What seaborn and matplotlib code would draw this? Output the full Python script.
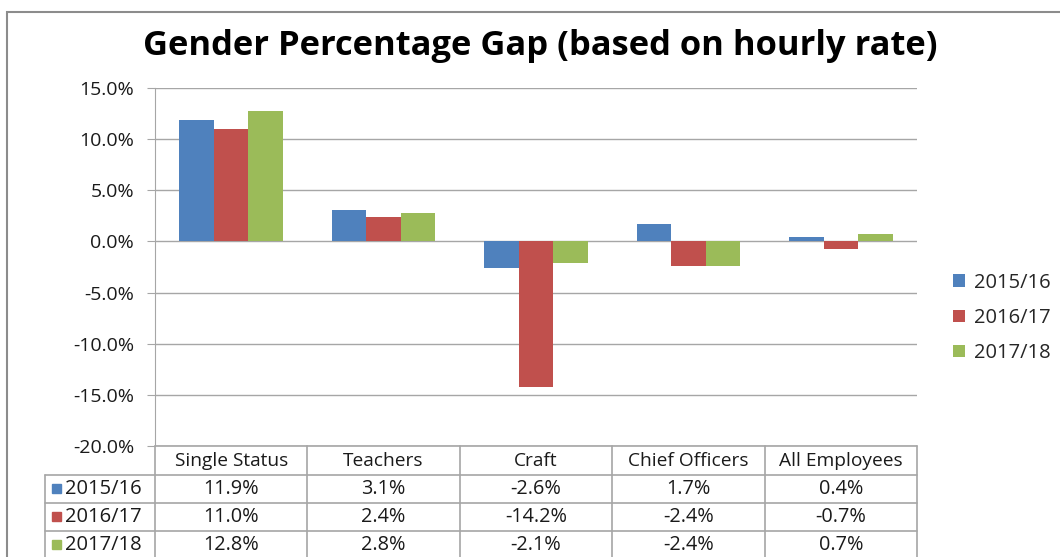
import numpy as np
import pandas as pd
import seaborn as sns
import matplotlib.pyplot as plt
from matplotlib.patches import Rectangle
from matplotlib.lines import Line2D

categories = ["Single Status", "Teachers", "Craft", "Chief Officers", "All Employees"]
years = ["2015/16", "2016/17", "2017/18"]
gap_2015 = [11.9, 3.1, -2.6, 1.7, 0.4]
gap_2016 = [11.0, 2.4, -14.2, -2.4, -0.7]
gap_2017 = [12.8, 2.8, -2.1, -2.4, 0.7]
colors = ["#4F81BD", "#C0504D", "#9BBB59"]
yticks = [15, 10, 5, 0, -5, -10, -15, -20]

df = pd.DataFrame({
    "category": categories * 3,
    "year": [y for y in years for _ in categories],
    "gap": gap_2015 + gap_2016 + gap_2017,
})

sns.set_style("white")
plt.rcParams["font.family"] = ["Open Sans", "DejaVu Sans"]

W, H = 1060, 557
fig = plt.figure(figsize=(W / 100, H / 100), dpi=100)

def fx(px):
    return px / W

def fy(py):
    return 1 - py / H

grey = "#a6a6a6"
txt = "#1a1a1a"

# outer chart frame
fig.add_artist(Rectangle((fx(7), fy(600)), fx(1100), fy(12) - fy(600),
                         transform=fig.transFigure, fill=False,
                         edgecolor="#8c8c8c", linewidth=1.5))

x0, x1, y0, y1 = 155, 917, 88, 446
ax = fig.add_axes([fx(x0), fy(y1), fx(x1) - fx(x0), fy(y0) - fy(y1)])

sns.barplot(data=df, x="category", y="gap", hue="year", palette=colors,
            width=0.68, saturation=1, linewidth=0, edgecolor="none", ax=ax)

ax.set_ylim(-20, 15)
ax.set_yticks(yticks)
ax.set_yticklabels([f"{v:.1f}%" for v in yticks], fontsize=14, color=txt)
ax.set_xticks([])
ax.set_xlabel("")
ax.set_ylabel("")
ax.yaxis.grid(True, color=grey, linewidth=1)
ax.set_axisbelow(True)
for s in ["top", "right", "bottom"]:
    ax.spines[s].set_visible(False)
ax.spines["left"].set_color(grey)
ax.tick_params(axis="y", length=6, color=grey, left=True, pad=9)

ax.legend(loc="center left", bbox_to_anchor=((935 - x0) / (x1 - x0), (y1 - 318) / (y1 - y0)),
          frameon=False, fontsize=14.5, handlelength=0.6, handleheight=0.6,
          handletextpad=0.45, labelspacing=0.75)

fig.suptitle("Gender Percentage Gap (based on hourly rate)", x=fx(540), y=fy(46),
             va="center", fontsize=24.8, fontweight="bold", color="black")

# data table under the axis
col_edges = [155 + i * (x1 - x0) / 5 for i in range(6)]
row_edges = [446, 475, 503, 531, 559]
label_left = 45

def hline(xa, xb, y):
    fig.add_artist(Line2D([fx(xa), fx(xb)], [fy(y), fy(y)], color=grey, lw=1.2))

def vline(x, ya, yb):
    fig.add_artist(Line2D([fx(x), fx(x)], [fy(ya), fy(yb)], color=grey, lw=1.2))

hline(col_edges[0], col_edges[-1], row_edges[0])
for y in row_edges[1:]:
    hline(label_left, col_edges[-1], y)
for x in col_edges:
    vline(x, row_edges[0], row_edges[-1])
vline(label_left, row_edges[1], row_edges[-1])

for j, cat in enumerate(categories):
    cx = (col_edges[j] + col_edges[j + 1]) / 2
    fig.text(fx(cx), fy((row_edges[0] + row_edges[1]) / 2), cat,
             ha="center", va="center", fontsize=13.8, color=txt)

series = [gap_2015, gap_2016, gap_2017]
for i, (yr, vals, col) in enumerate(zip(years, series, colors)):
    cy = (row_edges[i + 1] + row_edges[i + 2]) / 2
    fig.add_artist(Rectangle((fx(52), fy(cy + 4)), fx(8.5), fy(cy - 5) - fy(cy + 4),
                             transform=fig.transFigure, color=col))
    fig.text(fx(65), fy(cy), yr, ha="left", va="center", fontsize=14.5, color=txt)
    for j, v in enumerate(vals):
        cx = (col_edges[j] + col_edges[j + 1]) / 2
        fig.text(fx(cx), fy(cy), f"{v:.1f}%", ha="center", va="center",
                 fontsize=14.3, color=txt)

fig.savefig("out.png", dpi=100)
